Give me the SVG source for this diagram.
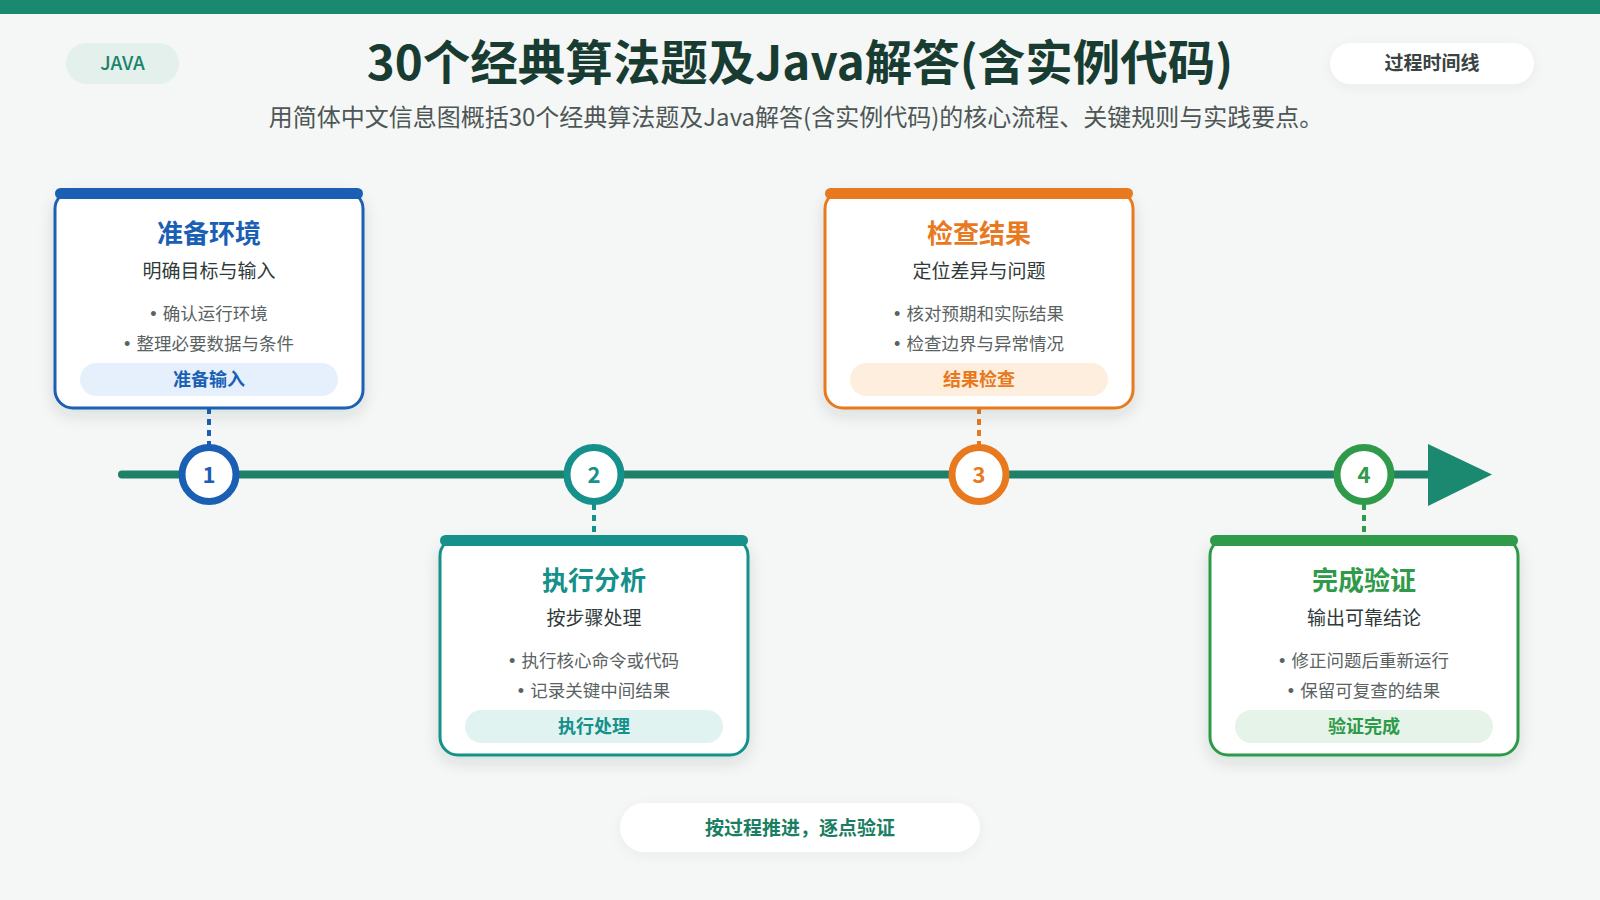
<svg xmlns="http://www.w3.org/2000/svg" width="1600" height="900" viewBox="0 0 1600 900">
<defs>
<filter id="sh" x="-20%" y="-20%" width="140%" height="150%">
<feDropShadow dx="0" dy="6" stdDeviation="8" flood-color="#1e3a32" flood-opacity="0.12"/>
</filter>
<filter id="sh2" x="-20%" y="-40%" width="140%" height="180%">
<feDropShadow dx="0" dy="3" stdDeviation="6" flood-color="#1e3a32" flood-opacity="0.05"/>
</filter>
<style>
text{font-family:"Noto Sans CJK SC","Noto Sans",sans-serif;text-anchor:middle}
.ttl{font-size:26px;font-weight:700}
.sub{font-size:19px;fill:#2f3a3a}
.bul{font-size:17.5px;fill:#5a6262}
.dot{font-family:"Liberation Sans",sans-serif;font-size:18px}
.tag{font-size:18px;font-weight:700}
.num{font-size:22px;font-weight:600}
.card{fill:#ffffff;stroke-width:3}
.dash{stroke-width:4;stroke-dasharray:6 5;fill:none}
</style>
</defs>
<rect x="0" y="0" width="1600" height="900" fill="#f4f7f5"/>
<rect x="0" y="0" width="1600" height="14" fill="#1b8870"/>

<g id="header">
<rect x="66" y="43" width="113" height="41" rx="20.5" fill="#e3f0ec"/>
<text x="122.5" y="70" style="font-size:19px;font-weight:500;fill:#1b8468">JAVA</text>
<text x="800" y="80" style="font-size:47.5px;font-weight:700;fill:#183c32">30个经典算法题及Java解答(含实例代码)</text>
<text x="796" y="126" style="font-size:24px;fill:#4e5656">用简体中文信息图概括30个经典算法题及Java解答(含实例代码)的核心流程、关键规则与实践要点。</text>
<rect x="1330" y="43" width="204" height="41" rx="20.5" fill="#ffffff" filter="url(#sh2)"/>
<text x="1432" y="70" style="font-size:19px;font-weight:700;fill:#3a4242">过程时间线</text>
</g>

<g id="connectors">
<line x1="122" y1="474.5" x2="1432" y2="474.5" stroke="#1f8068" stroke-width="8" stroke-linecap="round"/>
<polygon points="1428,444 1492,474.5 1428,506" fill="#1b8870"/>
<line class="dash" x1="209" y1="408" x2="209" y2="446" stroke="#1a5fb4"/>
<line class="dash" x1="594" y1="504" x2="594" y2="536" stroke="#15908a"/>
<line class="dash" x1="979" y1="408" x2="979" y2="446" stroke="#e8791e"/>
<line class="dash" x1="1364" y1="504" x2="1364" y2="536" stroke="#2f9a49"/>
</g>

<g id="m1"><circle cx="209" cy="474.5" r="27" fill="#fff" stroke="#1a5fb4" stroke-width="7"/><text class="num" x="209" y="482.5" fill="#1a5fb4">1</text></g>
<g id="m2"><circle cx="594" cy="474.5" r="27" fill="#fff" stroke="#15908a" stroke-width="7"/><text class="num" x="594" y="482.5" fill="#15908a">2</text></g>
<g id="m3"><circle cx="979" cy="474.5" r="27" fill="#fff" stroke="#e8791e" stroke-width="7"/><text class="num" x="979" y="482.5" fill="#e8791e">3</text></g>
<g id="m4"><circle cx="1364" cy="474.5" r="27" fill="#fff" stroke="#2f9a49" stroke-width="7"/><text class="num" x="1364" y="482.5" fill="#2f9a49">4</text></g>

<g id="card1">
<rect class="card" x="55" y="191" width="308" height="217" rx="18" stroke="#1a5fb4" filter="url(#sh)"/>
<rect x="55" y="188" width="308" height="11" rx="5.5" fill="#1a5fb4"/>
<text class="ttl" x="209" y="243" fill="#1a5fb4">准备环境</text>
<text class="sub" x="209" y="278">明确目标与输入</text>
<text class="bul" x="209" y="320"><tspan class="dot">•</tspan><tspan dx="6">确认运行环境</tspan></text>
<text class="bul" x="209" y="350"><tspan class="dot">•</tspan><tspan dx="6">整理必要数据与条件</tspan></text>
<rect x="80" y="363" width="258" height="33" rx="16.5" fill="#e6f0fc"/>
<text class="tag" x="209" y="386" fill="#1a5fb4">准备输入</text>
</g>

<g id="card2">
<rect class="card" x="440" y="538" width="308" height="217" rx="18" stroke="#15908a" filter="url(#sh)"/>
<rect x="440" y="535" width="308" height="11" rx="5.5" fill="#15908a"/>
<text class="ttl" x="594" y="590" fill="#15908a">执行分析</text>
<text class="sub" x="594" y="625">按步骤处理</text>
<text class="bul" x="594" y="667"><tspan class="dot">•</tspan><tspan dx="6">执行核心命令或代码</tspan></text>
<text class="bul" x="594" y="697"><tspan class="dot">•</tspan><tspan dx="6">记录关键中间结果</tspan></text>
<rect x="465" y="710" width="258" height="33" rx="16.5" fill="#e0f3f0"/>
<text class="tag" x="594" y="733" fill="#15908a">执行处理</text>
</g>

<g id="card3">
<rect class="card" x="825" y="191" width="308" height="217" rx="18" stroke="#e8791e" filter="url(#sh)"/>
<rect x="825" y="188" width="308" height="11" rx="5.5" fill="#e8791e"/>
<text class="ttl" x="979" y="243" fill="#e8791e">检查结果</text>
<text class="sub" x="979" y="278">定位差异与问题</text>
<text class="bul" x="979" y="320"><tspan class="dot">•</tspan><tspan dx="6">核对预期和实际结果</tspan></text>
<text class="bul" x="979" y="350"><tspan class="dot">•</tspan><tspan dx="6">检查边界与异常情况</tspan></text>
<rect x="850" y="363" width="258" height="33" rx="16.5" fill="#fdeedd"/>
<text class="tag" x="979" y="386" fill="#e8791e">结果检查</text>
</g>

<g id="card4">
<rect class="card" x="1210" y="538" width="308" height="217" rx="18" stroke="#2f9a49" filter="url(#sh)"/>
<rect x="1210" y="535" width="308" height="11" rx="5.5" fill="#2f9a49"/>
<text class="ttl" x="1364" y="590" fill="#2f9a49">完成验证</text>
<text class="sub" x="1364" y="625">输出可靠结论</text>
<text class="bul" x="1364" y="667"><tspan class="dot">•</tspan><tspan dx="6">修正问题后重新运行</tspan></text>
<text class="bul" x="1364" y="697"><tspan class="dot">•</tspan><tspan dx="6">保留可复查的结果</tspan></text>
<rect x="1235" y="710" width="258" height="33" rx="16.5" fill="#e6f3e8"/>
<text class="tag" x="1364" y="733" fill="#2f9a49">验证完成</text>
</g>

<g id="footer">
<rect x="620" y="803" width="360" height="49" rx="24.5" fill="#ffffff" filter="url(#sh2)"/>
<text x="800" y="835" style="font-size:19px;font-weight:700;fill:#1b7e62">按过程推进，逐点验证</text>
</g>
</svg>
